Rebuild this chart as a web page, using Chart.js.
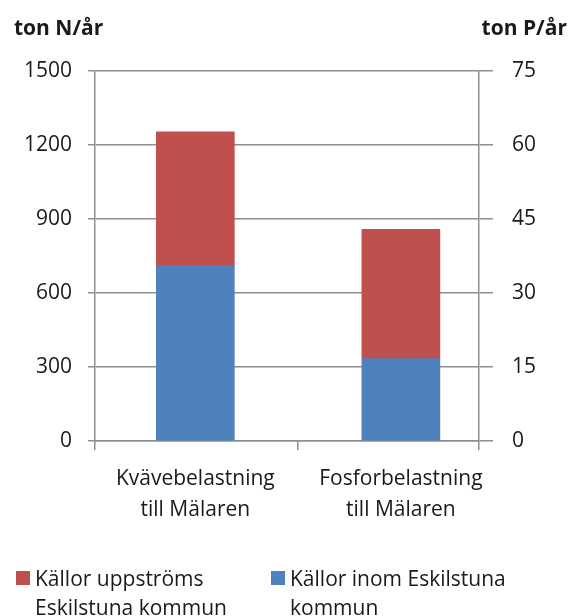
<!DOCTYPE html>
<html>
<head>
<meta charset="utf-8">
<script src="https://cdn.jsdelivr.net/npm/chart.js@4.4.1/dist/chart.umd.min.js"></script>
<style>
  body { margin: 0; background: #fff; }
  #wrap { width: 569px; height: 616px; }
</style>
</head>
<body>
<div id="wrap">
  <canvas id="myChart" width="569" height="616"></canvas>
</div>
<script>
  // categories (x) and the two stacked sources
  const categories = [['Kvävebelastning', 'till Mälaren'], ['Fosforbelastning', 'till Mälaren']];
  const seriesNames = [['Källor uppströms', 'Eskilstuna kommun'], ['Källor inom Eskilstuna', 'kommun']];
  // index 0 = ton N/år (left axis), index 1 = ton P/år (right axis)
  const uppstroms = [542, 26.2];
  const inom = [711, 16.7];
  const nTicks = [0, 300, 600, 900, 1200, 1500];
  const pTicks = [0, 15, 30, 45, 60, 75];
  const axisTitles = ['ton N/år', 'ton P/år'];

  const red = '#C0504D';
  const blue = '#4F81BD';
  const gridColor = '#8e8e8e';
  const textColor = '#1a1a1a';
  const fontFamily = '"Open Sans", "Noto Sans", sans-serif';

  const xMin = -0.488, xMax = 1.38;

  function ds(label, value, i, axis, color) {
    return {
      label: label.join(' '),
      data: [{ x: i, y: value }],
      yAxisID: axis,
      backgroundColor: color,
      stack: 'all',
      barThickness: 78
    };
  }

  const datasets = [
    ds(seriesNames[1], inom[0], 0, 'yN', blue),
    ds(seriesNames[0], uppstroms[0], 0, 'yN', red),
    ds(seriesNames[1], inom[1], 1, 'yP', blue),
    ds(seriesNames[0], uppstroms[1], 1, 'yP', red)
  ];

  // axis titles + wrapped legend drawn on the canvas
  const extras = {
    id: 'extras',
    afterDraw(chart) {
      const ctx = chart.ctx;
      ctx.save();
      ctx.fillStyle = textColor;
      ctx.font = 'bold 21px ' + fontFamily;
      ctx.textBaseline = 'alphabetic';
      ctx.textAlign = 'left';
      ctx.fillText(axisTitles[0], 14, 35);
      ctx.textAlign = 'right';
      ctx.fillText(axisTitles[1], 567, 35);

      const items = [
        { lines: seriesNames[0], color: red, x: 16 },
        { lines: seriesNames[1], color: blue, x: 271 }
      ];
      ctx.font = '21px ' + fontFamily;
      ctx.textAlign = 'left';
      items.forEach(it => {
        ctx.fillStyle = it.color;
        ctx.fillRect(it.x, 571, 14, 14);
        ctx.fillStyle = textColor;
        it.lines.forEach((l, k) => ctx.fillText(l, it.x + 19, 586 + k * 29));
      });
      ctx.restore();
    }
  };

  new Chart('myChart', {
    type: 'bar',
    data: { datasets: datasets },
    plugins: [extras],
    options: {
      responsive: false,
      animation: false,
      layout: { padding: { top: 71, left: 0, right: 0, bottom: 0 } },
      plugins: {
        legend: { display: false },
        tooltip: { enabled: false }
      },
      scales: {
        x: {
          type: 'linear',
          min: xMin,
          max: xMax,
          offset: false,
          stacked: true,
          afterBuildTicks: (s) => { s.ticks = [xMin, 0, 0.5, 1, xMax].map(v => ({ value: v })); },
          afterFit: (s) => { s.height = 175; },
          ticks: {
            autoSkip: false,
            maxRotation: 0,
            padding: 13,
            color: textColor,
            font: { family: fontFamily, size: 21, lineHeight: 1.48 },
            callback: (v) => v === 0 ? categories[0] : (v === 1 ? categories[1] : '')
          },
          grid: {
            offset: false,
            drawOnChartArea: false,
            tickLength: 9,
            lineWidth: 1.5,
            tickColor: (c) => (c.tick && (c.tick.value === 0 || c.tick.value === 1)) ? 'rgba(0,0,0,0)' : gridColor
          },
          border: { color: gridColor, width: 1.5 }
        },
        yN: {
          position: 'left',
          stacked: true,
          min: 0,
          max: 1500,
          afterBuildTicks: (s) => { s.ticks = nTicks.map(v => ({ value: v })); },
          afterFit: (s) => { s.width = 95; },
          ticks: {
            padding: 16,
            color: textColor,
            font: { family: fontFamily, size: 21 },
            callback: (v) => String(v)
          },
          grid: { color: gridColor, lineWidth: 1.5, tickLength: 7 },
          border: { color: gridColor, width: 1.5 }
        },
        yP: {
          position: 'right',
          stacked: true,
          min: 0,
          max: 75,
          afterBuildTicks: (s) => { s.ticks = pTicks.map(v => ({ value: v })); },
          afterFit: (s) => { s.width = 90; },
          ticks: {
            padding: 19,
            color: textColor,
            font: { family: fontFamily, size: 21 },
            callback: (v) => String(v)
          },
          grid: { drawOnChartArea: false, color: gridColor, lineWidth: 1.5, tickLength: 14 },
          border: { color: gridColor, width: 1.5 }
        }
      }
    }
  });
</script>
</body>
</html>
